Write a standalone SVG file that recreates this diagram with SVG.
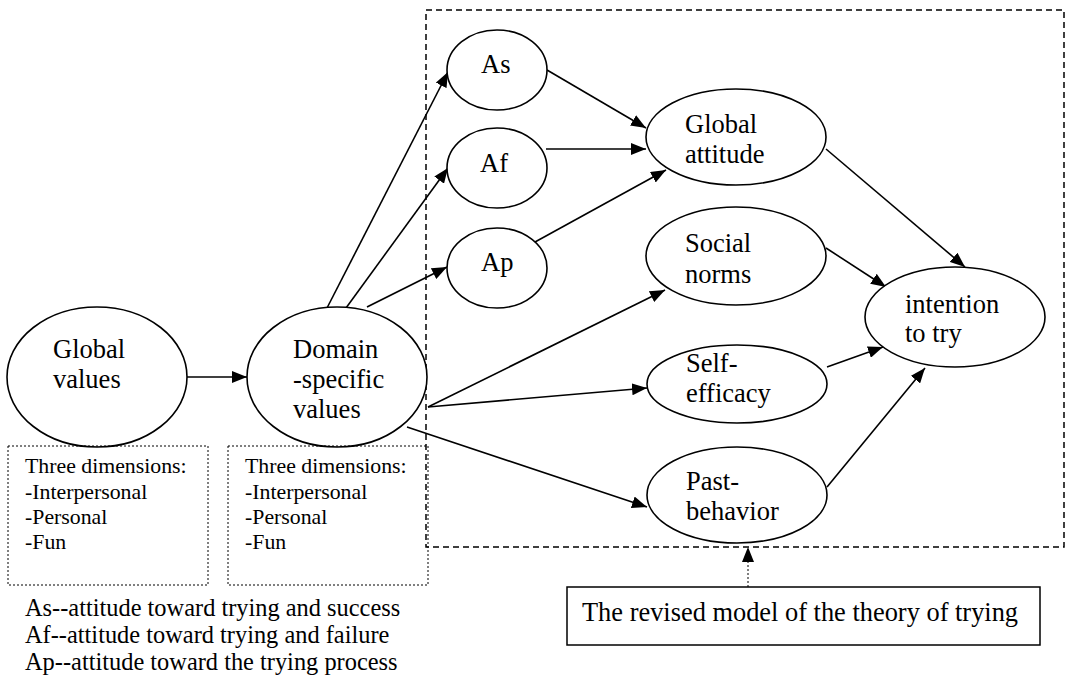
<svg xmlns="http://www.w3.org/2000/svg" width="1070" height="678" viewBox="0 0 1070 678">
  <defs>
    <marker id="arr" viewBox="0 0 15 12" refX="15" refY="6" markerWidth="15" markerHeight="12" markerUnits="userSpaceOnUse" orient="auto">
      <path d="M0,0 L15,6 L0,12 Z" fill="#000"/>
    </marker>
    <style>
      .node { fill: #fff; stroke: #000; stroke-width: 1.6; }
      text { font-family: 'Liberation Serif', 'Times New Roman', serif; fill: #000; }
      .lbl { font-size: 26.5px; }
      .cap { font-size: 26.4px; }
      .dim { font-size: 21.8px; }
      .leg { font-size: 24.4px; }
      .edge { stroke: #000; stroke-width: 1.6; fill: none; marker-end: url(#arr); }
      .frame { fill: none; stroke: #000; stroke-width: 1.5; stroke-dasharray: 6 4; }
      .dotbox { fill: none; stroke: #000; stroke-width: 1; stroke-dasharray: 2 2; }
    </style>
  </defs>

  <rect width="1070" height="678" fill="#fff"/>

  <!-- dashed frame around the revised model -->
  <rect class="frame" x="426" y="10" width="638" height="537"/>

  <!-- connectors -->
  <g id="connectors">
    <line class="edge" x1="187" y1="377" x2="247" y2="377"/>
    <line class="edge" x1="327" y1="308" x2="448" y2="72"/>
    <line class="edge" x1="346" y1="308" x2="448" y2="168"/>
    <line class="edge" x1="367" y1="307" x2="447" y2="267"/>
    <line class="edge" x1="547" y1="70" x2="646" y2="128"/>
    <line class="edge" x1="546" y1="149" x2="646" y2="149"/>
    <line class="edge" x1="535" y1="242" x2="666" y2="170"/>
    <line class="edge" x1="428" y1="407" x2="665" y2="290"/>
    <line class="edge" x1="428" y1="407" x2="647" y2="388"/>
    <line class="edge" x1="407" y1="427" x2="647" y2="507"/>
    <line class="edge" x1="826" y1="149" x2="965" y2="267"/>
    <line class="edge" x1="826" y1="248" x2="886" y2="287"/>
    <line class="edge" x1="827" y1="367" x2="883" y2="347"/>
    <line class="edge" x1="827" y1="487" x2="925" y2="368"/>
    <line x1="748" y1="587" x2="748" y2="547" stroke="#000" stroke-width="1" stroke-dasharray="2 2" marker-end="url(#arr)"/>
  </g>

  <g id="global-values">
    <ellipse class="node" cx="97" cy="377" rx="90" ry="70"/>
    <text class="lbl" x="53" y="358">Global</text>
    <text class="lbl" x="53" y="388">values</text>
  </g>

  <g id="domain-values">
    <ellipse class="node" cx="337" cy="377" rx="90" ry="70"/>
    <text class="lbl" x="293" y="358">Domain</text>
    <text class="lbl" x="293" y="388">-specific</text>
    <text class="lbl" x="293" y="418">values</text>
  </g>

  <g id="as">
    <ellipse class="node" cx="497" cy="70" rx="50" ry="40"/>
    <text class="lbl" x="481" y="73">As</text>
  </g>

  <g id="af">
    <ellipse class="node" cx="497" cy="168" rx="50" ry="40"/>
    <text class="lbl" x="480" y="172">Af</text>
  </g>

  <g id="ap">
    <ellipse class="node" cx="497" cy="268" rx="50" ry="40"/>
    <text class="lbl" x="481" y="271">Ap</text>
  </g>

  <g id="global-attitude">
    <ellipse class="node" cx="736" cy="137" rx="90" ry="48"/>
    <text class="lbl" x="685" y="133">Global</text>
    <text class="lbl" x="685" y="163">attitude</text>
  </g>

  <g id="social-norms">
    <ellipse class="node" cx="736" cy="256" rx="90" ry="49"/>
    <text class="lbl" x="685" y="252">Social</text>
    <text class="lbl" x="685" y="283">norms</text>
  </g>

  <g id="self-efficacy">
    <ellipse class="node" cx="737" cy="384" rx="90" ry="39"/>
    <text class="lbl" x="686" y="372">Self-</text>
    <text class="lbl" x="686" y="402">efficacy</text>
  </g>

  <g id="past-behavior">
    <ellipse class="node" cx="737" cy="495" rx="90" ry="48"/>
    <text class="lbl" x="686" y="490">Past-</text>
    <text class="lbl" x="686" y="520">behavior</text>
  </g>

  <g id="intention">
    <ellipse class="node" cx="955" cy="317" rx="90" ry="50"/>
    <text class="lbl" x="905" y="313">intention</text>
    <text class="lbl" x="905" y="342">to try</text>
  </g>

  <g id="global-dimensions">
    <rect class="dotbox" x="8" y="446" width="200" height="139"/>
    <text class="dim" x="25" y="473">Three dimensions:</text>
    <text class="dim" x="25" y="499">-Interpersonal</text>
    <text class="dim" x="25" y="524">-Personal</text>
    <text class="dim" x="25" y="549">-Fun</text>
  </g>

  <g id="domain-dimensions">
    <rect class="dotbox" x="228" y="446" width="200" height="139"/>
    <text class="dim" x="245" y="473">Three dimensions:</text>
    <text class="dim" x="245" y="499">-Interpersonal</text>
    <text class="dim" x="245" y="524">-Personal</text>
    <text class="dim" x="245" y="549">-Fun</text>
  </g>

  <g id="legend">
    <text class="leg" x="25" y="616">As--attitude toward trying and success</text>
    <text class="leg" x="25" y="643">Af--attitude toward trying and failure</text>
    <text class="leg" x="25" y="670">Ap--attitude toward the trying process</text>
  </g>

  <g id="caption">
    <rect x="567" y="587" width="473" height="58" fill="#fff" stroke="#000" stroke-width="1.5"/>
    <text class="cap" x="582" y="621">The revised model of the theory of trying</text>
  </g>
</svg>
